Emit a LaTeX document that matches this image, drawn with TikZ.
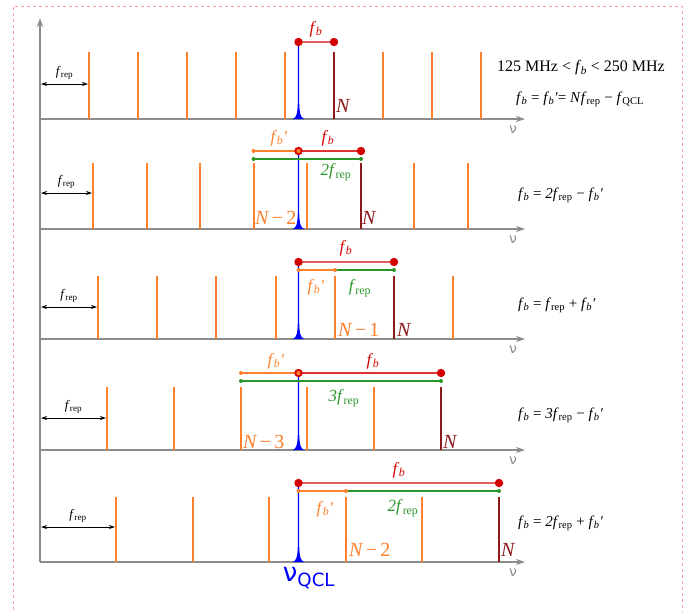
\documentclass[tikz,border=0pt]{standalone}
\usepackage{fontspec}
\setmainfont{Liberation Serif}
\newfontfamily\nusf{DejaVu Sans}
\usetikzlibrary{arrows.meta}
\definecolor{combor}{HTML}{FF7F2A}
\definecolor{dkred}{HTML}{8B1A1A}
\definecolor{bred}{HTML}{D40000}
\definecolor{lred}{HTML}{E06060}
\definecolor{grn}{HTML}{2A962A}
\definecolor{axgray}{HTML}{8C8C8C}
\definecolor{bdr}{HTML}{F4A0A0}
\newcommand{\fbx}{\textit{f}\textsubscript{\kern-0.5pt\textit{b}}}
\newcommand{\fbpx}{\textit{f}\textsubscript{\kern-0.5pt\textit{b}}\textit{′}}
\newcommand{\frepx}{\textit{f}\textsubscript{rep}}
\begin{document}
\begin{tikzpicture}[x=1pt,y=-1pt,
  axisline/.style={draw=axgray, line width=1.5pt, -{Stealth[length=9pt,width=6pt]}},
  combline/.style={draw=combor, line width=1.8pt},
  nline/.style={draw=dkred, line width=1.8pt},
  spanline/.style={line width=1.2pt},
  frarrow/.style={draw=black, line width=0.8pt, {Stealth[length=6pt,width=4pt]}-{Stealth[length=6pt,width=4pt]}},
  biglab/.style={font=\fontsize{17}{19}\selectfont, inner sep=0pt},
  nlab/.style={font=\fontsize{20}{22}\selectfont\itshape, inner sep=0pt},
  eqlab/.style={font=\fontsize{15}{17}\selectfont, inner sep=0pt, anchor=west},
  frlab/.style={font=\fontsize{13}{15}\selectfont, inner sep=0pt},
  nulab/.style={font=\nusf\fontsize{14}{16}\selectfont, text=axgray, inner sep=0pt}]
\useasboundingbox (0,0) rectangle (687,611);
% border
\draw[bdr, dashed, line width=0.8pt] (13,640) -- (13,6) -- (682,6) -- (682,640);
% axes
\coordinate (vbot) at (40,562);
\coordinate (vtop) at (40,18);
\draw[axisline] (vbot) -- (vtop);
\foreach \A [count=\k] in {119,229,339,450,562} {
  \coordinate (a\k) at (40,\A);
  \coordinate (e\k) at (525,\A);
  \draw[axisline] (a\k) -- (e\k);
  \node[nulab] (nu\k) at (513,\A+11) {ν};
}
% comb lines
\foreach \A/\T/\xo/\sp/\n in {119/52/89/49.05/8, 229/163/93/53.5/7, 339/276/98/59.2/6, 450/387/107/66.8/5, 562/497/116/76.6/5} {
  \foreach \i in {0,...,\n} {
    \pgfmathsetmacro\xx{round(\xo+\i*\sp)}
    \ifnum\i=5
      \draw[nline] (\xx,\A) -- (\xx,\T);
    \else
      \draw[combline] (\xx,\A) -- (\xx,\T);
    \fi
  }
}
% blue QCL peaks
\foreach \A/\T in {119/42, 229/151, 339/262, 450/373, 562/483} {
  \fill[blue] (292.5,\A) .. controls (296.6,\A-1) and (297.5,\A-6) .. (297.8,\A-16)
     -- (298,\T) -- (299,\T) -- (299.2,\A-16)
     .. controls (299.5,\A-6) and (300.4,\A-1) .. (304.5,\A) -- cycle;
}
% f_rep arrows
\foreach \y/\xe/\k in {84/88/1, 193/92/2, 307/97/3, 418/106/4, 527/115/5} {
  \coordinate (fl\k) at (41,\y);
  \coordinate (fr\k) at (\xe,\y);
  \draw[frarrow] (fl\k) -- (fr\k);
  \node[frlab] (frt\k) at ({(41+\xe)/2},\y-11) {\frepx};
}
% ---------- panel 1
\coordinate (p1a) at (298.5,42);
\coordinate (p1b) at (334,42);
\draw[lred, spanline] (p1a) -- (p1b);
\fill[bred] (p1a) circle (4.2);
\fill[bred] (p1b) circle (4.2);
\node[biglab, text=bred] (p1fb) at (316,29) {\fbx};
\node[nlab, text=dkred, anchor=west] (p1N) at (336,106) {N};
\node[font=\fontsize{16}{18}\selectfont, inner sep=0pt] (p1eqa) at (581,68) {125 MHz < \fbx{} < 250 MHz};
\node[eqlab] (p1eqb) at (516,99) {\fbx{} = \fbpx{}= \textit{N}\frepx{} − \textit{f}\textsubscript{QCL}};
% ---------- panel 2
\coordinate (p2o) at (253.5,151);
\coordinate (p2c) at (298.5,151);
\coordinate (p2r) at (361,151);
\coordinate (p2gl) at (253.5,159);
\coordinate (p2gr) at (361,159);
\draw[combor, spanline] (p2o) -- (p2c);
\draw[bred!80, spanline] (p2c) -- (p2r);
\draw[grn, spanline] (p2gl) -- (p2gr);
\fill[combor] (p2o) circle (2);
\fill[grn] (p2gl) circle (2);
\fill[grn] (p2gr) circle (2);
\fill[bred] (p2r) circle (4.2);
\fill[bred] (p2c) circle (4.2);
\fill[combor] (p2c) circle (2.1);
\node[biglab, text=combor] (p2fbp) at (279,138) {\fbpx};
\node[biglab, text=bred] (p2fb) at (328,138) {\fbx};
\node[biglab, text=grn] (p2g) at (336,172) {\textit{2f}\textsubscript{rep}};
\node[nlab, text=combor, anchor=west] (p2Nm) at (255,218) {N\,\textup{−}\,\textup{2}};
\node[nlab, text=dkred, anchor=west] (p2N) at (362,218) {N};
\node[eqlab] (p2eq) at (518,195) {\fbx{} = \textit{2}\frepx{} − \fbpx};
% ---------- panel 3
\coordinate (p3c) at (298.5,262);
\coordinate (p3r) at (394,262);
\coordinate (p3ol) at (298.5,270);
\coordinate (p3om) at (335,270);
\coordinate (p3gr) at (394,270);
\draw[lred, spanline] (p3c) -- (p3r);
\draw[combor, spanline] (p3ol) -- (p3om);
\draw[grn, spanline] (p3om) -- (p3gr);
\fill[bred] (p3c) circle (4.2);
\fill[bred] (p3r) circle (4.2);
\fill[combor] (p3ol) circle (2);
\fill[combor] (p3om) circle (2);
\fill[grn] (p3gr) circle (2);
\node[biglab, text=bred] (p3fb) at (346,248) {\fbx};
\node[biglab, text=combor] (p3fbp) at (316,287) {\fbpx};
\node[biglab, text=grn] (p3g) at (360,288) {\frepx};
\node[nlab, text=combor, anchor=west] (p3Nm) at (338,330) {N\,\textup{−}\,\textup{1}};
\node[nlab, text=dkred, anchor=west] (p3N) at (397,330) {N};
\node[eqlab] (p3eq) at (518,305) {\fbx{} = \frepx{} + \fbpx};
% ---------- panel 4
\coordinate (p4o) at (241,373);
\coordinate (p4c) at (298.5,373);
\coordinate (p4r) at (441,373);
\coordinate (p4gl) at (241,381);
\coordinate (p4gr) at (441,381);
\draw[combor, spanline] (p4o) -- (p4c);
\draw[bred!80, spanline] (p4c) -- (p4r);
\draw[grn, spanline] (p4gl) -- (p4gr);
\fill[combor] (p4o) circle (2);
\fill[grn] (p4gl) circle (2);
\fill[grn] (p4gr) circle (2);
\fill[bred] (p4r) circle (4.2);
\fill[bred] (p4c) circle (4.2);
\fill[combor] (p4c) circle (2.1);
\node[biglab, text=combor] (p4fbp) at (276,361) {\fbpx};
\node[biglab, text=bred] (p4fb) at (373,361) {\fbx};
\node[biglab, text=grn] (p4g) at (344,398) {\textit{3f}\textsubscript{rep}};
\node[nlab, text=combor, anchor=west] (p4Nm) at (243,442) {N\,\textup{−}\,\textup{3}};
\node[nlab, text=dkred, anchor=west] (p4N) at (443,442) {N};
\node[eqlab] (p4eq) at (518,415) {\fbx{} = \textit{3}\frepx{} − \fbpx};
% ---------- panel 5
\coordinate (p5c) at (298.5,483);
\coordinate (p5r) at (499,483);
\coordinate (p5ol) at (298.5,491);
\coordinate (p5om) at (346,491);
\coordinate (p5gr) at (499,491);
\draw[lred, spanline] (p5c) -- (p5r);
\draw[combor, spanline] (p5ol) -- (p5om);
\draw[grn, spanline] (p5om) -- (p5gr);
\fill[bred] (p5c) circle (4.2);
\fill[bred] (p5r) circle (4.2);
\fill[combor] (p5ol) circle (2);
\fill[combor] (p5om) circle (2);
\fill[grn] (p5gr) circle (2);
\node[biglab, text=bred] (p5fb) at (399,470) {\fbx};
\node[biglab, text=combor] (p5fbp) at (325,509) {\fbpx};
\node[biglab, text=grn] (p5g) at (403,508) {\textit{2f}\textsubscript{rep}};
\node[nlab, text=combor, anchor=west] (p5Nm) at (349,550) {N\,\textup{−}\,\textup{2}};
\node[nlab, text=dkred, anchor=west] (p5N) at (501,550) {N};
\node[eqlab] (p5eq) at (518,523) {\fbx{} = \textit{2}\frepx{} + \fbpx};
% nu_QCL
\node[font=\nusf\fontsize{26}{28}\selectfont, text=blue, inner sep=0pt] (nuqcl) at (309,578) {ν\textsubscript{QCL}};
\end{tikzpicture}
\end{document}
